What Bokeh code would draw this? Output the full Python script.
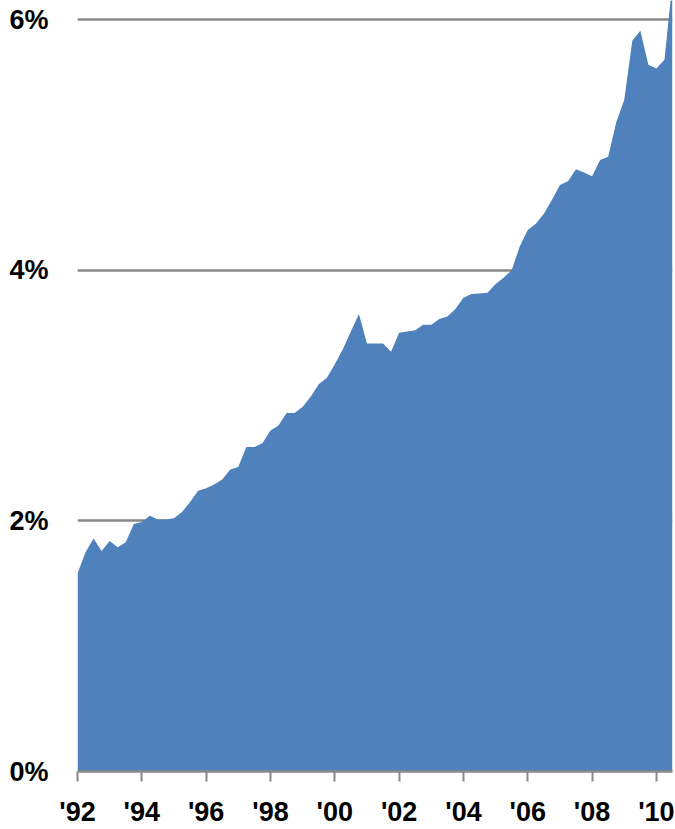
from bokeh.plotting import figure
from bokeh.models import FixedTicker, Range1d
from bokeh.embed import file_html
from bokeh.resources import INLINE

# Quarterly series, 1992 Q1 .. 2010 Q3 (percent)
start_year = 1992
values = [
    1.58, 1.75, 1.86, 1.76,      # 1992
    1.84, 1.79, 1.83, 1.975,     # 1993
    1.99, 2.04, 2.01, 2.01,      # 1994
    2.02, 2.07, 2.15, 2.24,      # 1995
    2.26, 2.29, 2.33, 2.41,      # 1996
    2.43, 2.59, 2.59, 2.62,      # 1997
    2.72, 2.76, 2.86, 2.86,      # 1998
    2.91, 2.99, 3.09, 3.14,      # 1999
    3.25, 3.37, 3.51, 3.65,      # 2000
    3.415, 3.415, 3.415, 3.35,   # 2001
    3.50, 3.51, 3.52, 3.565,     # 2002
    3.565, 3.61, 3.63, 3.69,     # 2003
    3.78, 3.81, 3.815, 3.82,     # 2004
    3.89, 3.94, 4.00, 4.19,      # 2005
    4.32, 4.37, 4.45, 4.56,      # 2006
    4.68, 4.71, 4.805, 4.78,     # 2007
    4.75, 4.88, 4.905, 5.18,     # 2008
    5.36, 5.83, 5.91, 5.64,      # 2009
    5.61, 5.68, 6.30,            # 2010
]
quarters = [start_year + 0.25 * i for i in range(len(values))]

x_ticks = [1992, 1994, 1996, 1998, 2000, 2002, 2004, 2006, 2008, 2010]
x_labels = ["'92", "'94", "'96", "'98", "'00", "'02", "'04", "'06", "'08", "'10"]
y_ticks = [0, 2, 4, 6]
y_labels = ["0%", "2%", "4%", "6%"]

FONT = "Liberation Sans"
GRID = "#888888"
BLUE = "#4f81bd"

p = figure(width=675, height=829, output_backend="svg", toolbar_location=None,
           x_range=Range1d(1992, 2010.5), y_range=Range1d(0, 6.152),
           min_border_left=77, min_border_right=3, min_border_top=0,
           min_border_bottom=56)
p.outline_line_color = None
p.background_fill_color = "white"
p.border_fill_color = "white"

p.varea(x=quarters, y1=[0] * len(values), y2=values, fill_color=BLUE)

# grid
p.xgrid.visible = False
p.ygrid.ticker = FixedTicker(ticks=y_ticks)
p.ygrid.grid_line_color = GRID
p.ygrid.grid_line_width = 2.5

# x axis
xa = p.xaxis[0]
xa.ticker = FixedTicker(ticks=x_ticks)
xa.major_label_overrides = dict(zip(x_ticks, x_labels))
xa.axis_line_color = GRID
xa.axis_line_width = 2.5
xa.major_tick_line_color = GRID
xa.major_tick_line_width = 2
xa.major_tick_in = 0
xa.major_tick_out = 10
xa.minor_tick_line_color = None
xa.major_label_text_font = FONT
xa.major_label_text_font_style = "bold"
xa.major_label_text_font_size = "27px"
xa.major_label_text_color = "black"
xa.major_label_standoff = 15

# y axis
ya = p.yaxis[0]
ya.ticker = FixedTicker(ticks=y_ticks)
ya.major_label_overrides = dict(zip(y_ticks, y_labels))
ya.axis_line_color = None
ya.major_tick_line_color = None
ya.minor_tick_line_color = None
ya.major_tick_in = 0
ya.major_tick_out = 0
ya.major_label_text_font = FONT
ya.major_label_text_font_style = "bold"
ya.major_label_text_font_size = "27px"
ya.major_label_text_color = "black"
ya.major_label_standoff = 29

open("out.html", "w").write(file_html(p, INLINE))
